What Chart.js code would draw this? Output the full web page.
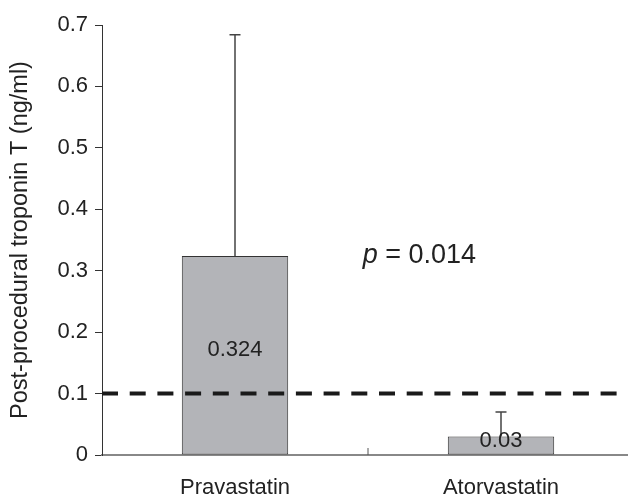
<!DOCTYPE html>
<html><head><meta charset="utf-8">
<script src="https://cdn.jsdelivr.net/npm/chart.js@4"></script>
<style>html,body{margin:0;padding:0;overflow:hidden;background:#fff}#wrap{width:634px;height:498px}</style>
</head><body><div id="wrap"><canvas id="c"></canvas></div>
<script>
const categories = ['Pravastatin', 'Atorvastatin'];
const meanValues = [0.324, 0.03];
const errorUpper = [0.684, 0.07];
const barLabels = ['0.324', '0.03'];
const yTickLabels = ['0', '0.1', '0.2', '0.3', '0.4', '0.5', '0.6', '0.7'];
const thresholdValue = 0.1;
const pValueText = ' = 0.014';
const yTitle = 'Post-procedural troponin T (ng/ml)';

const FONT = '"Liberation Sans", Arial, Helvetica, sans-serif';
const TEXT = '#222';

const annot = { xIndex: 0.48, yValue: 0.313 };

const overlay = {
  id: 'overlay',
  afterDatasetsDraw(chart) {
    const {ctx, chartArea, scales: {x, y}} = chart;
    const meta = chart.getDatasetMeta(0);
    ctx.save();
    // threshold dashed line
    const ty = y.getPixelForValue(thresholdValue);
    ctx.strokeStyle = '#1a1a1a';
    ctx.lineWidth = 4;
    ctx.setLineDash([16, 11.7]);
    ctx.beginPath();
    ctx.moveTo(chartArea.left, ty);
    ctx.lineTo(chart.width, ty);
    ctx.stroke();
    ctx.setLineDash([]);
    // error bars
    ctx.strokeStyle = '#444';
    ctx.lineWidth = 1.5;
    meta.data.forEach((bar, i) => {
      const top = y.getPixelForValue(errorUpper[i]);
      const base = y.getPixelForValue(meanValues[i]);
      ctx.beginPath();
      ctx.moveTo(bar.x, base);
      ctx.lineTo(bar.x, top);
      ctx.moveTo(bar.x - 5.5, top);
      ctx.lineTo(bar.x + 5.5, top);
      ctx.stroke();
    });
    // inward category boundary tick
    ctx.strokeStyle = '#555';
    ctx.lineWidth = 1;
    const bx = x.getPixelForValue(0.5);
    ctx.beginPath();
    ctx.moveTo(bx, chartArea.bottom);
    ctx.lineTo(bx, chartArea.bottom - 7);
    ctx.stroke();
    // bar labels
    ctx.fillStyle = TEXT;
    ctx.font = '22px ' + FONT;
    ctx.textAlign = 'center';
    ctx.textBaseline = 'middle';
    meta.data.forEach((bar, i) => {
      const mid = (bar.y + bar.base) / 2;
      ctx.fillText(barLabels[i], bar.x, mid - 5);
    });
    // p-value annotation
    const px = x.getPixelForValue(annot.xIndex);
    const py = y.getPixelForValue(annot.yValue);
    ctx.textAlign = 'left';
    ctx.textBaseline = 'alphabetic';
    ctx.font = 'italic 27px ' + FONT;
    ctx.fillText('p', px, py);
    const w = ctx.measureText('p').width;
    ctx.font = '27px ' + FONT;
    ctx.fillText(pValueText, px + w, py);
    ctx.restore();
  }
};

new Chart(document.getElementById('c'), {
  type: 'bar',
  data: {
    labels: categories,
    datasets: [{
      data: meanValues,
      backgroundColor: '#b3b4b8',
      borderColor: '#333',
      borderWidth: 1,
      borderSkipped: false,
      barPercentage: 0.4,
      categoryPercentage: 1
    }]
  },
  options: {
    responsive: true,
    maintainAspectRatio: false,
    animation: false,
    layout: { padding: { top: 25, left: 0, right: 0, bottom: 0 } },
    plugins: { legend: { display: false }, tooltip: { enabled: false } },
    scales: {
      x: {
        grid: { display: true, drawOnChartArea: false, drawTicks: false },
        border: { display: true, color: '#888', width: 2 },
        ticks: { padding: 20, color: TEXT, font: { size: 22, family: FONT } },
        afterFit(s) { s.height = 43; }
      },
      y: {
        min: 0, max: 0.7,
        ticks: {
          stepSize: 0.1, padding: 7, color: TEXT,
          font: { size: 22, family: FONT },
          callback: (v, i) => yTickLabels[i]
        },
        grid: { drawOnChartArea: false, tickLength: 7, color: '#333' },
        border: { display: true, color: '#333', width: 1 },
        title: {
          display: true, text: yTitle, color: TEXT,
          font: { size: 23.5, family: FONT },
          padding: { top: 6, bottom: 0 }
        },
        afterFit(s) { s.width = 102; }
      }
    }
  },
  plugins: [overlay]
});
</script>
</body></html>
